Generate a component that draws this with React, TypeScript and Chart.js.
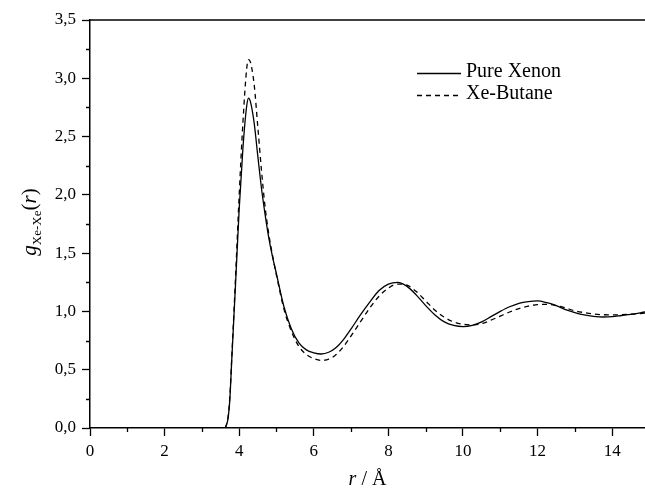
import React, { useEffect, useRef } from "react";
import { Chart, registerables } from "chart.js";

Chart.register(...registerables);

const rValues = [0, 3.5, 3.6, 3.65, 3.7, 3.75, 3.8, 3.9, 4.0, 4.1, 4.2, 4.25, 4.3, 4.4, 4.5, 4.6, 4.7, 4.8, 4.9, 5.0, 5.2, 5.4, 5.6, 5.8, 6.0, 6.2, 6.4, 6.6, 6.8, 7.0, 7.25, 7.5, 7.75, 8.0, 8.25, 8.5, 8.75, 9.0, 9.25, 9.5, 9.75, 10.0, 10.25, 10.5, 10.75, 11.0, 11.25, 11.5, 11.75, 12.0, 12.25, 12.5, 12.75, 13.0, 13.25, 13.5, 13.75, 14.0, 14.25, 14.5, 14.88];

const pureXenon = [0, 0, 0, 0.02, 0.08, 0.25, 0.58, 1.22, 1.88, 2.4, 2.76, 2.83, 2.8, 2.62, 2.33, 2.05, 1.82, 1.62, 1.46, 1.32, 1.04, 0.85, 0.73, 0.67, 0.645, 0.635, 0.65, 0.69, 0.76, 0.85, 0.97, 1.08, 1.18, 1.235, 1.25, 1.215, 1.14, 1.05, 0.97, 0.91, 0.88, 0.87, 0.88, 0.91, 0.955, 1.0, 1.04, 1.07, 1.085, 1.09, 1.075, 1.05, 1.015, 0.99, 0.97, 0.958, 0.952, 0.955, 0.965, 0.975, 0.995];

const xeButane = [0, 0, 0, 0.02, 0.09, 0.27, 0.6, 1.28, 2.0, 2.62, 3.08, 3.16, 3.14, 2.95, 2.58, 2.2, 1.88, 1.65, 1.47, 1.31, 1.02, 0.83, 0.7, 0.63, 0.595, 0.58, 0.59, 0.63, 0.7, 0.79, 0.91, 1.03, 1.13, 1.2, 1.235, 1.225, 1.17, 1.09, 1.01, 0.95, 0.91, 0.89, 0.885, 0.895, 0.925, 0.96, 0.995, 1.025, 1.045, 1.058, 1.06, 1.05, 1.03, 1.005, 0.99, 0.978, 0.972, 0.97, 0.972, 0.976, 0.985];

const seriesNames = ["Pure Xenon", "Xe-Butane"];
const xMin = 0;
const xMax = 14.88;
const yMin = 0;
const yMax = 3.5;
const xMinorTicks = [1, 3, 5, 7, 9, 11, 13];
const yMinorTicks = [0.25, 0.75, 1.25, 1.75, 2.25, 2.75, 3.25];

const FONT = "'Liberation Serif', 'Times New Roman', serif";

const decorPlugin = {
  id: "decor",
  afterDraw(chart: any) {
    const ctx = chart.ctx;
    const ca = chart.chartArea;
    const xs = chart.scales.x;
    const ys = chart.scales.y;
    ctx.save();
    ctx.strokeStyle = "#000";
    ctx.lineWidth = 1.5;
    // top frame
    ctx.beginPath();
    ctx.moveTo(ca.left, ca.top);
    ctx.lineTo(ca.right, ca.top);
    ctx.stroke();
    // minor ticks
    ctx.lineWidth = 1.3;
    ctx.beginPath();
    xMinorTicks.forEach((v) => {
      const px = Math.round(xs.getPixelForValue(v)) + 0.5;
      ctx.moveTo(px, ca.bottom);
      ctx.lineTo(px, ca.bottom + 4);
    });
    yMinorTicks.forEach((v) => {
      const py = Math.round(ys.getPixelForValue(v)) + 0.5;
      ctx.moveTo(ca.left, py);
      ctx.lineTo(ca.left - 4, py);
    });
    ctx.stroke();

    // legend
    const lx0 = 417;
    const lx1 = 461;
    const rows = [73, 95];
    chart.data.datasets.forEach((ds: any, i: number) => {
      ctx.beginPath();
      ctx.lineWidth = 1.3;
      ctx.setLineDash(ds.borderDash || []);
      ctx.moveTo(lx0, rows[i] + 0.5);
      ctx.lineTo(lx1, rows[i] + 0.5);
      ctx.stroke();
      ctx.setLineDash([]);
      ctx.fillStyle = "#000";
      ctx.font = `20px ${FONT}`;
      ctx.textAlign = "left";
      ctx.textBaseline = "middle";
      ctx.fillText(ds.label, 466, rows[i] - 1);
    });

    // x axis title: r / Å
    ctx.textBaseline = "alphabetic";
    const cx = (ca.left + ca.right) / 2;
    ctx.font = `italic 20px ${FONT}`;
    const rW = ctx.measureText("r").width;
    ctx.font = `20px ${FONT}`;
    const restX = " / Å";
    const restW = ctx.measureText(restX).width;
    const sx = cx - (rW + restW) / 2;
    ctx.font = `italic 20px ${FONT}`;
    ctx.fillText("r", sx, 485);
    ctx.font = `20px ${FONT}`;
    ctx.fillText(restX, sx + rW, 485);

    // y axis title: g_{Xe-Xe}(r)
    ctx.translate(36, 222);
    ctx.rotate(-Math.PI / 2);
    const parts = [
      { t: "g", f: `italic 21px ${FONT}`, dy: 0 },
      { t: "Xe-Xe", f: `13px ${FONT}`, dy: 5 },
      { t: "(", f: `21px ${FONT}`, dy: 0 },
      { t: "r", f: `italic 21px ${FONT}`, dy: 0 },
      { t: ")", f: `21px ${FONT}`, dy: 0 },
    ];
    let total = 0;
    parts.forEach((p) => {
      ctx.font = p.f;
      total += ctx.measureText(p.t).width;
    });
    let px = -total / 2;
    parts.forEach((p) => {
      ctx.font = p.f;
      ctx.fillText(p.t, px, p.dy);
      px += ctx.measureText(p.t).width;
    });
    ctx.restore();
  },
};

export default function App() {
  const ref = useRef<HTMLCanvasElement | null>(null);
  useEffect(() => {
    if (!ref.current) return;
    const mk = (vals: number[]) => rValues.map((r, i) => ({ x: r, y: vals[i] }));
    const chart = new Chart(ref.current, {
      type: "line",
      data: {
        datasets: [
          {
            label: seriesNames[0],
            data: mk(pureXenon),
            borderColor: "#000",
            borderWidth: 1.3,
            pointRadius: 0,
            fill: false,
            cubicInterpolationMode: "monotone",
          },
          {
            label: seriesNames[1],
            data: mk(xeButane),
            borderColor: "#000",
            borderWidth: 1.3,
            borderDash: [5, 4],
            pointRadius: 0,
            fill: false,
            cubicInterpolationMode: "monotone",
          },
        ],
      },
      options: {
        responsive: false,
        animation: false,
        layout: { padding: { top: 20, right: 0, left: 0, bottom: 0 } },
        plugins: { legend: { display: false }, tooltip: { enabled: false } },
        scales: {
          x: {
            type: "linear",
            min: xMin,
            max: xMax,
            afterFit: (s: any) => {
              s.height = 61;
            },
            grid: {
              drawOnChartArea: false,
              drawTicks: true,
              tickLength: 8,
              tickWidth: 1.3,
              tickColor: "#000",
            },
            border: { display: true, color: "#000", width: 1.5 },
            ticks: {
              stepSize: 2,
              includeBounds: false,
              color: "#000",
              padding: 5,
              maxRotation: 0,
              font: { family: FONT, size: 17 },
              callback: (v: any) => String(v),
            },
          },
          y: {
            type: "linear",
            min: yMin,
            max: yMax,
            afterFit: (s: any) => {
              s.width = 90;
            },
            grid: {
              drawOnChartArea: false,
              drawTicks: true,
              tickLength: 8,
              tickWidth: 1.3,
              tickColor: "#000",
            },
            border: { display: true, color: "#000", width: 1.5 },
            ticks: {
              stepSize: 0.5,
              color: "#000",
              padding: 6,
              font: { family: FONT, size: 17 },
              callback: (v: any) => Number(v).toFixed(1).replace(".", ","),
            },
          },
        },
      },
      plugins: [decorPlugin],
    } as any);
    return () => chart.destroy();
  }, []);
  return (
    <div style={{ position: "absolute", left: 0, top: 0, width: 645, height: 489, background: "#fff" }}>
      <canvas ref={ref} width={645} height={489} style={{ display: "block" }} />
    </div>
  );
}
